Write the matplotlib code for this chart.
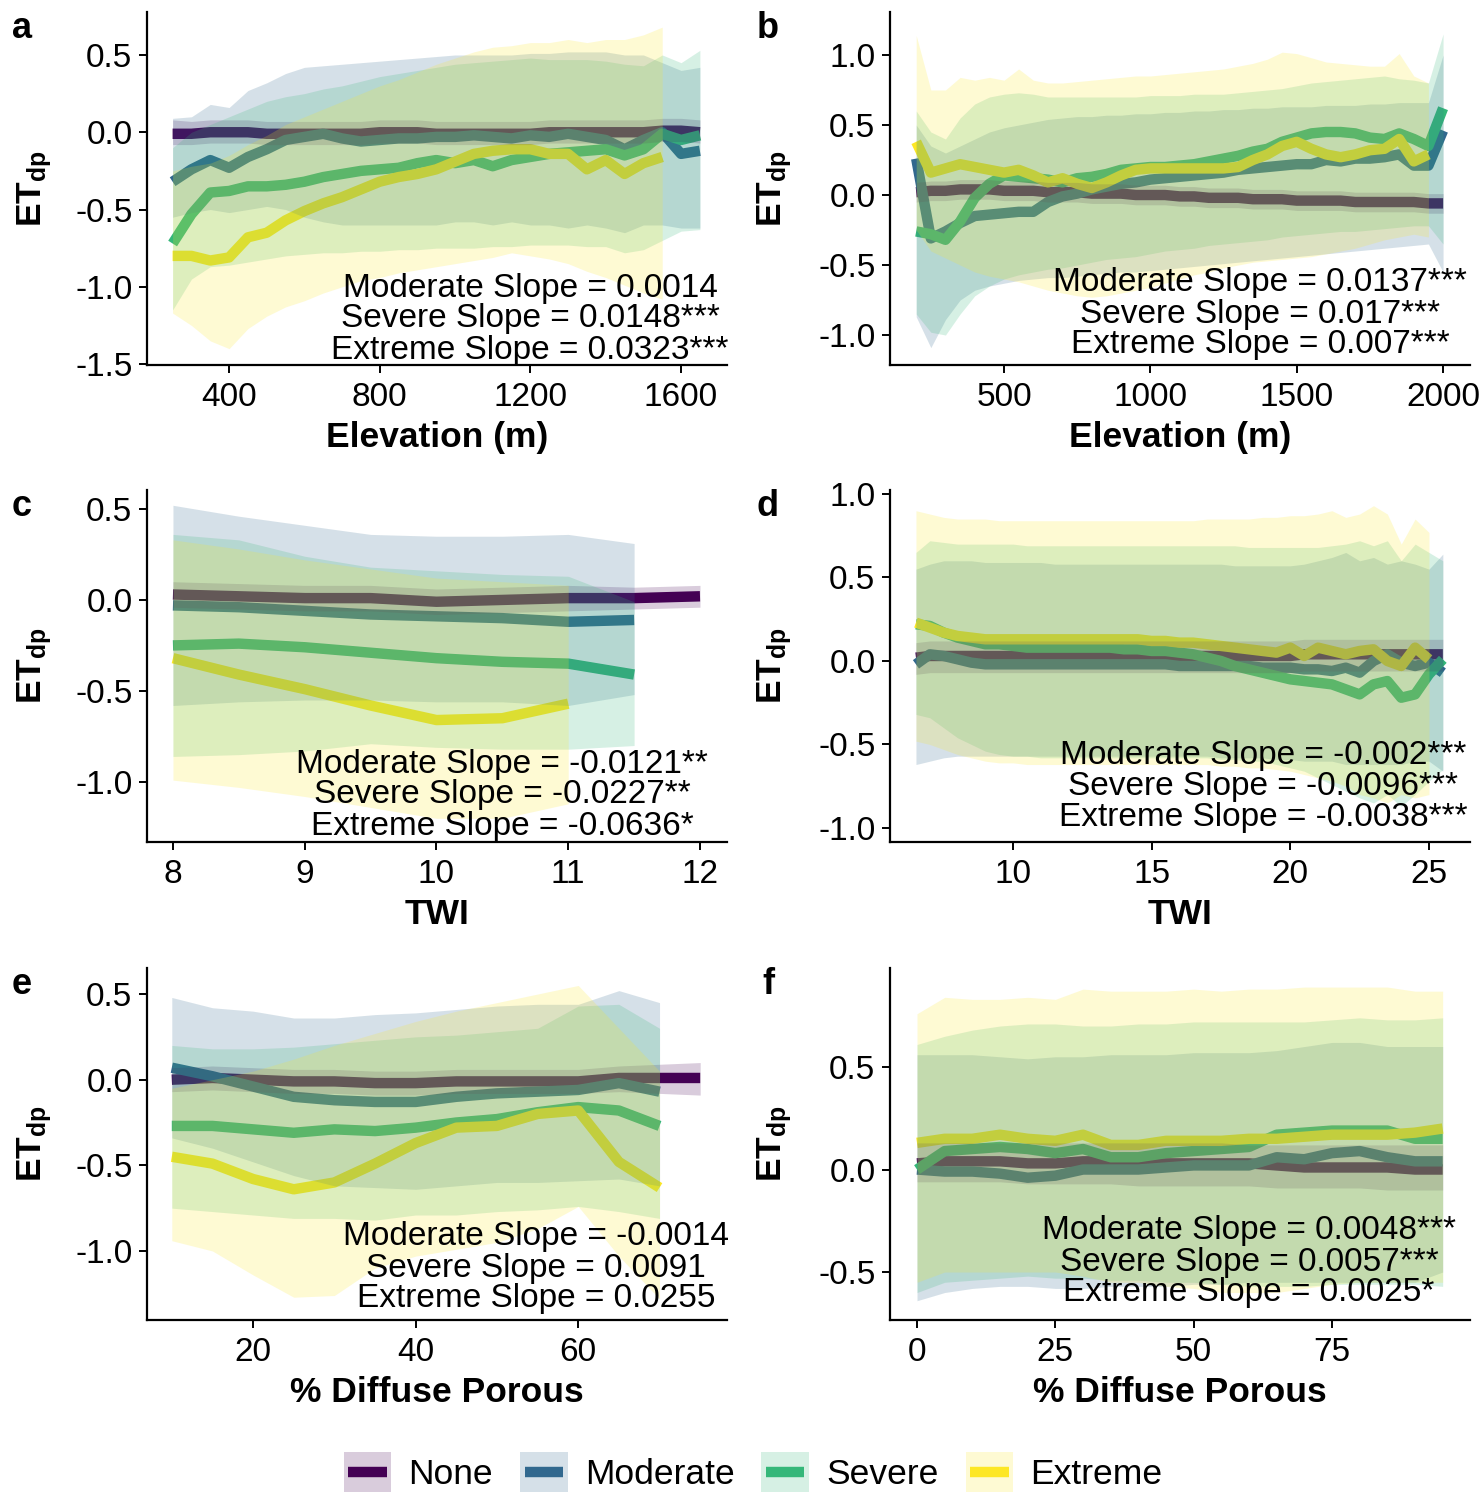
import matplotlib
matplotlib.use('Agg')
import matplotlib.pyplot as plt
from matplotlib.patches import Rectangle
from matplotlib.lines import Line2D
from matplotlib.legend_handler import HandlerBase
from matplotlib.ticker import FormatStrFormatter

matplotlib.rcParams['font.family'] = 'Liberation Sans'
matplotlib.rcParams['axes.unicode_minus'] = False
matplotlib.rcParams['mathtext.fontset'] = 'custom'
matplotlib.rcParams['mathtext.rm'] = 'Liberation Sans'
matplotlib.rcParams['mathtext.bf'] = 'Liberation Sans:bold'
matplotlib.rcParams['mathtext.it'] = 'Liberation Sans:italic'

W, H = 1484, 1493
fontsize1 = 24     # ticks, slope text
fontsize2 = 25.5   # axis labels, legend
fontsize3 = 26     # panel letters
linewidth1 = 7.5

groups = ['None', 'Moderate', 'Severe', 'Extreme']
colors = ['#440154', '#31688E', '#35B779', '#FDE725']

# ---------------- panel a : elevation (m) ----------------
a_x = [250, 300, 350, 400, 450, 500, 550, 600, 650, 700,
       750, 800, 850, 900, 950, 1000, 1050, 1100, 1150, 1200,
       1250, 1300, 1350, 1400, 1450, 1500, 1550, 1600, 1650]
a_none = [-0.01, -0.01, 0.0, 0.0, 0.0, -0.01, -0.01, -0.01, -0.01, -0.01,
          -0.01, 0.0, 0.0, 0.0, -0.01, -0.01, -0.01, -0.01, -0.01, -0.01,
          0.0, 0.0, 0.0, 0.0, 0.0, 0.0, 0.01, 0.01, 0.0]
a_none_lo = [-0.08, -0.08, -0.07, -0.07, -0.07, -0.08, -0.08, -0.08, -0.08, -0.08,
             -0.08, -0.07, -0.07, -0.07, -0.08, -0.08, -0.08, -0.08, -0.08, -0.08,
             -0.07, -0.07, -0.07, -0.07, -0.07, -0.07, -0.06, -0.06, -0.07]
a_none_hi = [0.08, 0.07, 0.08, 0.08, 0.08, 0.07, 0.07, 0.07, 0.07, 0.07,
             0.07, 0.08, 0.08, 0.08, 0.07, 0.07, 0.07, 0.07, 0.07, 0.07,
             0.08, 0.08, 0.08, 0.08, 0.08, 0.08, 0.09, 0.09, 0.08]
a_mod = [-0.32, -0.24, -0.18, -0.23, -0.16, -0.11, -0.05, -0.03, -0.01, -0.04,
         -0.06, -0.05, -0.04, -0.04, -0.03, -0.03, -0.02, -0.03, -0.04, -0.02,
         -0.03, -0.01, -0.03, -0.05, -0.11, -0.05, 0.0, -0.14, -0.12]
a_mod_lo = [-0.55, -0.52, -0.5, -0.52, -0.5, -0.48, -0.5, -0.55, -0.58, -0.6,
            -0.6, -0.6, -0.6, -0.6, -0.6, -0.58, -0.58, -0.6, -0.58, -0.6,
            -0.6, -0.62, -0.6, -0.62, -0.65, -0.6, -0.6, -0.62, -0.62]
a_mod_hi = [0.09, 0.10, 0.18, 0.16, 0.27, 0.32, 0.38, 0.42, 0.43, 0.44,
            0.45, 0.46, 0.47, 0.48, 0.49, 0.50, 0.50, 0.50, 0.50, 0.51,
            0.51, 0.52, 0.52, 0.52, 0.50, 0.50, 0.45, 0.40, 0.42]
a_sev = [-0.72, -0.53, -0.39, -0.38, -0.35, -0.35, -0.34, -0.32, -0.29, -0.27,
         -0.25, -0.24, -0.23, -0.2, -0.18, -0.2, -0.18, -0.22, -0.18, -0.16,
         -0.14, -0.13, -0.12, -0.11, -0.15, -0.11, -0.01, -0.05, -0.02]
a_sev_lo = [-1.15, -0.95, -0.87, -0.86, -0.84, -0.82, -0.8, -0.79, -0.78, -0.78,
            -0.77, -0.77, -0.76, -0.76, -0.75, -0.75, -0.75, -0.74, -0.74, -0.73,
            -0.73, -0.73, -0.74, -0.74, -0.78, -0.76, -0.7, -0.64, -0.63]
a_sev_hi = [-0.1, 0.0, 0.05, 0.1, 0.15, 0.2, 0.23, 0.25, 0.28, 0.3,
            0.33, 0.36, 0.38, 0.4, 0.42, 0.44, 0.45, 0.46, 0.47, 0.48,
            0.47, 0.47, 0.47, 0.46, 0.44, 0.43, 0.5, 0.45, 0.53]
a_ext = [-0.80, -0.80, -0.83, -0.81, -0.68, -0.65, -0.57, -0.51, -0.46, -0.42,
         -0.37, -0.32, -0.29, -0.27, -0.24, -0.19, -0.14, -0.12, -0.11, -0.11,
         -0.14, -0.14, -0.24, -0.18, -0.27, -0.2, -0.16]
a_ext_lo = [-1.17, -1.25, -1.35, -1.4, -1.27, -1.19, -1.13, -1.09, -1.04, -1.0,
            -0.96, -0.94, -0.91, -0.89, -0.87, -0.85, -0.83, -0.81, -0.78, -0.8,
            -0.82, -0.85, -0.9, -0.94, -0.99, -1.04, -1.08]
a_ext_hi = [-0.25, -0.22, -0.2, -0.15, -0.08, -0.02, 0.05, 0.1, 0.15, 0.2,
            0.25, 0.3, 0.34, 0.39, 0.44, 0.48, 0.52, 0.55, 0.56, 0.58,
            0.58, 0.6, 0.58, 0.6, 0.6, 0.63, 0.68]

# ---------------- panel b : elevation (m) ----------------
b_x = [200, 250, 300, 350, 400, 450, 500, 550, 600, 650,
       700, 750, 800, 850, 900, 950, 1000, 1050, 1100, 1150,
       1200, 1250, 1300, 1350, 1400, 1450, 1500, 1550, 1600, 1650,
       1700, 1750, 1800, 1850, 1900, 1950, 2000]
b_none = [0.02, 0.03, 0.03, 0.04, 0.04, 0.04, 0.03, 0.03, 0.03, 0.02,
          0.02, 0.02, 0.01, 0.01, 0.01, 0.0, 0.0, 0.0, -0.01, -0.01,
          -0.02, -0.02, -0.02, -0.03, -0.03, -0.03, -0.04, -0.04, -0.04, -0.04,
          -0.05, -0.05, -0.05, -0.05, -0.05, -0.06, -0.06]
b_none_lo = [-0.05, -0.04, -0.04, -0.03, -0.03, -0.03, -0.04, -0.04, -0.04, -0.05,
             -0.05, -0.05, -0.06, -0.06, -0.06, -0.07, -0.07, -0.07, -0.08, -0.08,
             -0.09, -0.09, -0.09, -0.1, -0.1, -0.1, -0.11, -0.11, -0.11, -0.11,
             -0.12, -0.12, -0.12, -0.12, -0.12, -0.13, -0.13]
b_none_hi = [0.09, 0.1, 0.1, 0.11, 0.11, 0.11, 0.1, 0.1, 0.1, 0.09,
             0.09, 0.09, 0.08, 0.08, 0.08, 0.07, 0.07, 0.07, 0.06, 0.06,
             0.05, 0.05, 0.05, 0.04, 0.04, 0.04, 0.03, 0.03, 0.03, 0.03,
             0.02, 0.02, 0.02, 0.02, 0.02, 0.01, 0.01]
b_mod = [0.26, -0.31, -0.26, -0.2, -0.15, -0.14, -0.13, -0.12, -0.12, -0.05,
         -0.01, 0.01, 0.04, 0.06, 0.08, 0.09, 0.11, 0.12, 0.13, 0.14,
         0.15, 0.16, 0.18, 0.19, 0.2, 0.21, 0.22, 0.22, 0.25, 0.24,
         0.26, 0.26, 0.27, 0.29, 0.21, 0.21, 0.46]
b_mod_lo = [-0.87, -1.09, -0.89, -0.75, -0.68, -0.65, -0.63, -0.61, -0.6, -0.59,
            -0.59, -0.58, -0.57, -0.56, -0.55, -0.55, -0.54, -0.53, -0.52, -0.51,
            -0.5, -0.49, -0.48, -0.47, -0.46, -0.45, -0.44, -0.43, -0.42, -0.41,
            -0.4, -0.39, -0.38, -0.37, -0.36, -0.35, -0.55]
b_mod_hi = [0.5, 0.35, 0.3, 0.35, 0.4, 0.45, 0.48, 0.5, 0.52, 0.54,
            0.55, 0.56, 0.56, 0.57, 0.57, 0.58, 0.58, 0.59, 0.59, 0.6,
            0.6, 0.61, 0.61, 0.62, 0.62, 0.63, 0.63, 0.63, 0.64, 0.64,
            0.64, 0.65, 0.65, 0.66, 0.66, 0.66, 1.0]
b_sev = [-0.26, -0.28, -0.32, -0.19, -0.02, 0.08, 0.14, 0.13, 0.12, 0.11,
         0.09, 0.12, 0.13, 0.15, 0.18, 0.19, 0.2, 0.2, 0.21, 0.22,
         0.24, 0.26, 0.28, 0.31, 0.33, 0.38, 0.41, 0.44, 0.45, 0.45,
         0.44, 0.41, 0.4, 0.44, 0.4, 0.35, 0.62]
b_sev_lo = [-0.85, -0.98, -1.0, -0.85, -0.72, -0.65, -0.6, -0.57, -0.55, -0.53,
            -0.52, -0.5, -0.48, -0.46, -0.45, -0.44, -0.42, -0.4, -0.39, -0.38,
            -0.36, -0.35, -0.34, -0.33, -0.32, -0.3, -0.29, -0.28, -0.27, -0.26,
            -0.26, -0.25, -0.24, -0.23, -0.22, -0.22, -0.35]
b_sev_hi = [0.6, 0.45, 0.4, 0.55, 0.65, 0.7, 0.72, 0.73, 0.72, 0.7,
            0.7, 0.7, 0.7, 0.7, 0.7, 0.7, 0.71, 0.71, 0.71, 0.72,
            0.72, 0.72, 0.73, 0.74, 0.75, 0.76, 0.78, 0.8, 0.81, 0.82,
            0.83, 0.84, 0.85, 0.83, 0.82, 0.8, 1.15]
b_ext = [0.38, 0.16, 0.19, 0.22, 0.2, 0.18, 0.16, 0.18, 0.14, 0.09,
         0.12, 0.08, 0.05, 0.09, 0.14, 0.18, 0.19, 0.19, 0.19, 0.19,
         0.19, 0.19, 0.2, 0.25, 0.29, 0.35, 0.38, 0.33, 0.29, 0.27,
         0.29, 0.32, 0.33, 0.4, 0.24, 0.29]
b_ext_lo = [-0.25, -0.4, -0.45, -0.5, -0.55, -0.58, -0.6, -0.62, -0.65, -0.68,
            -0.7, -0.72, -0.73, -0.72, -0.7, -0.68, -0.66, -0.63, -0.6, -0.57,
            -0.55, -0.52, -0.5, -0.48, -0.47, -0.46, -0.45, -0.44, -0.42, -0.4,
            -0.38, -0.35, -0.32, -0.3, -0.28, -0.3]
b_ext_hi = [1.14, 0.75, 0.75, 0.84, 0.82, 0.84, 0.82, 0.9, 0.82, 0.8,
            0.8, 0.81, 0.82, 0.83, 0.84, 0.85, 0.85, 0.86, 0.87, 0.88,
            0.89, 0.9, 0.92, 0.94, 0.97, 1.02, 1.01, 0.98, 0.95, 0.94,
            0.93, 0.92, 0.92, 1.01, 0.85, 0.8]

# ---------------- panel c : TWI ----------------
c_x = [8, 8.5, 9, 9.5, 10, 10.5, 11, 11.5, 12]
c_none = [0.03, 0.02, 0.01, 0.01, -0.01, 0.0, 0.01, 0.01, 0.02]
c_none_lo = [-0.04, -0.05, -0.06, -0.06, -0.08, -0.07, -0.06, -0.05, -0.04]
c_none_hi = [0.1, 0.09, 0.08, 0.08, 0.06, 0.07, 0.08, 0.07, 0.08]
c_mod = [-0.03, -0.04, -0.06, -0.08, -0.09, -0.1, -0.12, -0.11]
c_mod_lo = [-0.58, -0.56, -0.55, -0.55, -0.56, -0.56, -0.58, -0.52]
c_mod_hi = [0.52, 0.46, 0.41, 0.36, 0.35, 0.35, 0.36, 0.31]
c_sev = [-0.25, -0.24, -0.26, -0.29, -0.32, -0.34, -0.35, -0.41]
c_sev_lo = [-0.86, -0.85, -0.83, -0.79, -0.81, -0.82, -0.82, -0.8]
c_sev_hi = [0.36, 0.33, 0.24, 0.18, 0.16, 0.14, 0.13, -0.01]
c_ext = [-0.32, -0.41, -0.49, -0.58, -0.66, -0.65, -0.57]
c_ext_lo = [-0.99, -1.03, -1.08, -1.14, -1.2, -1.2, -1.12]
c_ext_hi = [0.33, 0.28, 0.22, 0.17, 0.12, 0.1, 0.08]

# ---------------- panel d : TWI ----------------
d_x = [6.5, 7, 7.5, 8, 8.5, 9, 9.5, 10, 10.5, 11,
       11.5, 12, 12.5, 13, 13.5, 14, 14.5, 15, 15.5, 16,
       16.5, 17, 17.5, 18, 18.5, 19, 19.5, 20, 20.5, 21,
       21.5, 22, 22.5, 23, 23.5, 24, 24.5, 25, 25.5]
d_none = [0.02, 0.03, 0.03, 0.03, 0.03, 0.03, 0.03, 0.03, 0.03, 0.03,
          0.03, 0.03, 0.03, 0.03, 0.03, 0.03, 0.03, 0.03, 0.03, 0.03,
          0.03, 0.03, 0.03, 0.03, 0.03, 0.03, 0.03, 0.03, 0.04, 0.04,
          0.04, 0.04, 0.04, 0.04, 0.04, 0.04, 0.04, 0.04, 0.04]
d_none_lo = [-0.08, -0.07, -0.07, -0.07, -0.07, -0.07, -0.07, -0.07, -0.07, -0.07,
             -0.07, -0.07, -0.07, -0.07, -0.07, -0.07, -0.07, -0.07, -0.07, -0.07,
             -0.07, -0.07, -0.07, -0.07, -0.07, -0.07, -0.07, -0.07, -0.06, -0.06,
             -0.06, -0.06, -0.06, -0.06, -0.06, -0.06, -0.06, -0.06, -0.06]
d_none_hi = [0.11, 0.12, 0.12, 0.12, 0.12, 0.12, 0.12, 0.12, 0.12, 0.12,
             0.12, 0.12, 0.12, 0.12, 0.12, 0.12, 0.12, 0.12, 0.12, 0.12,
             0.12, 0.12, 0.12, 0.12, 0.12, 0.12, 0.12, 0.12, 0.13, 0.13,
             0.13, 0.13, 0.13, 0.13, 0.13, 0.13, 0.13, 0.13, 0.13]
d_mod = [-0.02, 0.04, 0.03, 0.01, -0.01, -0.02, -0.02, -0.02, -0.02, -0.02,
         -0.02, -0.02, -0.02, -0.02, -0.02, -0.02, -0.02, -0.02, -0.02, -0.03,
         -0.03, -0.03, -0.03, -0.03, -0.03, -0.04, -0.04, -0.04, -0.05, -0.05,
         -0.06, -0.04, -0.07, 0.0, 0.04, -0.01, -0.03, -0.01, -0.07]
d_mod_lo = [-0.62, -0.6, -0.58, -0.57, -0.57, -0.57, -0.57, -0.57, -0.57, -0.57,
            -0.57, -0.57, -0.57, -0.57, -0.57, -0.57, -0.57, -0.57, -0.57, -0.57,
            -0.57, -0.57, -0.58, -0.58, -0.58, -0.58, -0.59, -0.59, -0.6, -0.6,
            -0.6, -0.62, -0.62, -0.62, -0.62, -0.62, -0.6, -0.6, -0.66]
d_mod_hi = [0.55, 0.58, 0.6, 0.6, 0.6, 0.59, 0.59, 0.59, 0.59, 0.59,
            0.58, 0.58, 0.58, 0.58, 0.58, 0.58, 0.58, 0.58, 0.58, 0.58,
            0.58, 0.58, 0.58, 0.57, 0.57, 0.57, 0.57, 0.57, 0.58, 0.6,
            0.62, 0.65, 0.6, 0.62, 0.58, 0.6, 0.58, 0.55, 0.64]
d_sev = [0.22, 0.21, 0.17, 0.14, 0.12, 0.1, 0.1, 0.09, 0.08, 0.08,
         0.08, 0.08, 0.08, 0.08, 0.08, 0.07, 0.07, 0.06, 0.06, 0.05,
         0.04, 0.02, 0.0, -0.03, -0.05, -0.07, -0.09, -0.11, -0.12, -0.13,
         -0.14, -0.17, -0.2, -0.14, -0.12, -0.22, -0.2, -0.08, 0.01]
d_sev_lo = [-0.32, -0.34, -0.4, -0.46, -0.5, -0.54, -0.56, -0.57, -0.57, -0.58,
            -0.58, -0.58, -0.58, -0.58, -0.58, -0.58, -0.58, -0.58, -0.58, -0.58,
            -0.58, -0.58, -0.59, -0.59, -0.6, -0.6, -0.62, -0.64, -0.66, -0.7,
            -0.74, -0.78, -0.82, -0.85, -0.8, -0.87, -0.8, -0.72, -0.65]
d_sev_hi = [0.65, 0.72, 0.71, 0.7, 0.7, 0.7, 0.7, 0.7, 0.69, 0.69,
            0.69, 0.69, 0.69, 0.69, 0.69, 0.69, 0.69, 0.69, 0.69, 0.69,
            0.69, 0.69, 0.69, 0.69, 0.68, 0.68, 0.68, 0.68, 0.68, 0.68,
            0.69, 0.7, 0.72, 0.69, 0.72, 0.6, 0.7, 0.65, 0.6]
d_ext = [0.23, 0.2, 0.17, 0.15, 0.14, 0.13, 0.13, 0.13, 0.13, 0.13,
         0.13, 0.13, 0.13, 0.13, 0.13, 0.13, 0.13, 0.12, 0.12, 0.11,
         0.11, 0.1, 0.09, 0.08, 0.07, 0.06, 0.05, 0.08, 0.03, 0.08,
         0.06, 0.04, 0.06, 0.07, 0.0, -0.03, 0.08, 0.01]
d_ext_lo = [-0.48, -0.5, -0.53, -0.56, -0.58, -0.6, -0.61, -0.61, -0.62, -0.62,
            -0.62, -0.62, -0.62, -0.62, -0.62, -0.62, -0.62, -0.62, -0.62, -0.62,
            -0.62, -0.62, -0.63, -0.63, -0.64, -0.64, -0.65, -0.66, -0.68, -0.7,
            -0.72, -0.75, -0.8, -0.82, -0.85, -0.8, -0.82, -0.8]
d_ext_hi = [0.9, 0.88, 0.86, 0.85, 0.85, 0.85, 0.84, 0.84, 0.84, 0.84,
            0.84, 0.84, 0.84, 0.84, 0.84, 0.84, 0.84, 0.84, 0.84, 0.84,
            0.84, 0.85, 0.85, 0.85, 0.85, 0.86, 0.86, 0.87, 0.87, 0.88,
            0.9, 0.86, 0.88, 0.93, 0.88, 0.7, 0.85, 0.77]

# ---------------- panel e : % diffuse porous ----------------
e_x = [10, 15, 20, 25, 30, 35, 40, 45, 50, 55, 60, 65, 70, 75]
e_none = [0.0, 0.01, 0.0, -0.01, -0.01, -0.02, -0.02, -0.01, -0.01, -0.01, -0.01, 0.01, 0.01, 0.01]
e_none_lo = [-0.07, -0.06, -0.07, -0.08, -0.08, -0.09, -0.09, -0.08, -0.08, -0.08, -0.08, -0.07, -0.08, -0.09]
e_none_hi = [0.07, 0.08, 0.07, 0.06, 0.06, 0.05, 0.05, 0.06, 0.06, 0.06, 0.06, 0.08, 0.09, 0.1]
e_mod = [0.07, 0.02, -0.04, -0.1, -0.12, -0.13, -0.13, -0.1, -0.08, -0.07, -0.06, -0.02, -0.07]
e_mod_lo = [-0.34, -0.4, -0.48, -0.56, -0.62, -0.63, -0.64, -0.62, -0.6, -0.6, -0.59, -0.58, -0.62]
e_mod_hi = [0.48, 0.42, 0.4, 0.36, 0.36, 0.38, 0.39, 0.41, 0.43, 0.44, 0.44, 0.52, 0.45]
e_sev = [-0.27, -0.27, -0.29, -0.31, -0.29, -0.3, -0.28, -0.25, -0.23, -0.19, -0.16, -0.18, -0.27]
e_sev_lo = [-0.75, -0.77, -0.79, -0.81, -0.81, -0.82, -0.79, -0.79, -0.77, -0.76, -0.74, -0.77, -0.81]
e_sev_hi = [0.2, 0.18, 0.18, 0.19, 0.21, 0.23, 0.25, 0.26, 0.28, 0.3, 0.43, 0.44, 0.3]
e_ext = [-0.45, -0.49, -0.58, -0.64, -0.6, -0.49, -0.37, -0.28, -0.27, -0.2, -0.18, -0.48, -0.63]
e_ext_lo = [-0.94, -1.0, -1.14, -1.27, -1.26, -1.1, -1.03, -0.99, -0.95, -0.87, -0.74, -1.03, -1.28]
e_ext_hi = [-0.05, 0.0, 0.05, 0.12, 0.2, 0.27, 0.34, 0.4, 0.45, 0.5, 0.55, 0.3, 0.05]

# ---------------- panel f : % diffuse porous ----------------
f_x = [0, 5, 10, 15, 20, 25, 30, 35, 40, 45, 50, 55, 60, 65, 70, 75, 80, 85, 90, 95]
f_none = [0.03, 0.04, 0.04, 0.04, 0.03, 0.03, 0.04, 0.04, 0.03, 0.03,
          0.03, 0.03, 0.03, 0.02, 0.01, 0.01, 0.01, 0.01, 0.0, 0.0]
f_none_lo = [-0.06, -0.06, -0.06, -0.06, -0.07, -0.07, -0.07, -0.07, -0.08, -0.08,
             -0.08, -0.08, -0.08, -0.09, -0.09, -0.09, -0.09, -0.1, -0.1, -0.1]
f_none_hi = [0.13, 0.13, 0.13, 0.13, 0.13, 0.13, 0.13, 0.13, 0.13, 0.13,
             0.13, 0.13, 0.12, 0.12, 0.12, 0.12, 0.12, 0.12, 0.12, 0.12]
f_mod = [0.0, -0.01, -0.01, -0.02, -0.04, -0.03, 0.0, 0.0, 0.0, 0.01,
         0.02, 0.02, 0.02, 0.06, 0.05, 0.08, 0.09, 0.06, 0.04, 0.04]
f_mod_lo = [-0.64, -0.6, -0.58, -0.57, -0.57, -0.58, -0.58, -0.57, -0.57, -0.57,
            -0.56, -0.56, -0.55, -0.55, -0.55, -0.55, -0.55, -0.55, -0.55, -0.5]
f_mod_hi = [0.56, 0.56, 0.56, 0.55, 0.54, 0.55, 0.55, 0.56, 0.56, 0.56,
            0.57, 0.57, 0.57, 0.58, 0.6, 0.62, 0.62, 0.6, 0.6, 0.6]
f_sev = [0.0, 0.09, 0.1, 0.11, 0.1, 0.08, 0.1, 0.06, 0.06, 0.08,
         0.09, 0.1, 0.11, 0.17, 0.18, 0.19, 0.19, 0.19, 0.15, 0.15]
f_sev_lo = [-0.6, -0.55, -0.54, -0.53, -0.52, -0.53, -0.53, -0.54, -0.54, -0.55,
            -0.55, -0.56, -0.57, -0.57, -0.57, -0.56, -0.56, -0.56, -0.56, -0.57]
f_sev_hi = [0.61, 0.65, 0.68, 0.7, 0.71, 0.71, 0.7, 0.7, 0.71, 0.71,
            0.72, 0.72, 0.72, 0.72, 0.72, 0.73, 0.74, 0.73, 0.73, 0.74]
f_ext = [0.13, 0.15, 0.15, 0.17, 0.15, 0.14, 0.17, 0.12, 0.12, 0.14,
         0.14, 0.14, 0.15, 0.15, 0.16, 0.17, 0.17, 0.17, 0.18, 0.2]
f_ext_lo = [-0.55, -0.5, -0.5, -0.5, -0.5, -0.5, -0.52, -0.55, -0.55, -0.57,
            -0.58, -0.6, -0.6, -0.6, -0.58, -0.56, -0.55, -0.55, -0.55, -0.55]
f_ext_hi = [0.76, 0.84, 0.83, 0.83, 0.84, 0.83, 0.88, 0.87, 0.87, 0.87,
            0.88, 0.87, 0.88, 0.88, 0.89, 0.89, 0.89, 0.89, 0.87, 0.87]

slope_a = 'Moderate Slope = 0.0014\nSevere Slope = 0.0148***\nExtreme Slope = 0.0323***'
slope_b = 'Moderate Slope = 0.0137***\nSevere Slope = 0.017***\nExtreme Slope = 0.007***'
slope_c = 'Moderate Slope = -0.0121**\nSevere Slope = -0.0227**\nExtreme Slope = -0.0636*'
slope_d = 'Moderate Slope = -0.002***\nSevere Slope = -0.0096***\nExtreme Slope = -0.0038***'
slope_e = 'Moderate Slope = -0.0014\nSevere Slope = 0.0091\nExtreme Slope = 0.0255'
slope_f = 'Moderate Slope = 0.0048***\nSevere Slope = 0.0057***\nExtreme Slope = 0.0025*'

# panel table: letter, x data, series, xlabel, box (px: left, top, right, bottom),
# xlim, ylim, xticks, yticks, slope text, slope text centre (px)
panels = [
    ('a', a_x, [(a_none, a_none_lo, a_none_hi), (a_mod, a_mod_lo, a_mod_hi),
                (a_sev, a_sev_lo, a_sev_hi), (a_ext, a_ext_lo, a_ext_hi)],
     'Elevation (m)', (147, 12, 727, 365), (182, 1722), (-1.506, 0.778),
     [400, 800, 1200, 1600], [-1.5, -1.0, -0.5, 0.0, 0.5], slope_a, (530, 319)),
    ('b', b_x, [(b_none, b_none_lo, b_none_hi), (b_mod, b_mod_lo, b_mod_hi),
                (b_sev, b_sev_lo, b_sev_hi), (b_ext, b_ext_lo, b_ext_hi)],
     'Elevation (m)', (890, 12, 1470, 365), (110.5, 2092), (-1.214, 1.307),
     [500, 1000, 1500, 2000], [-1.0, -0.5, 0.0, 0.5, 1.0], slope_b, (1260, 314)),
    ('c', c_x, [(c_none, c_none_lo, c_none_hi), (c_mod, c_mod_lo, c_mod_hi),
                (c_sev, c_sev_lo, c_sev_hi), (c_ext, c_ext_lo, c_ext_hi)],
     'TWI', (147, 490, 727, 842), (7.803, 12.205), (-1.33, 0.604),
     [8, 9, 10, 11, 12], [-1.0, -0.5, 0.0, 0.5], slope_c, (502, 795)),
    ('d', d_x, [(d_none, d_none_lo, d_none_hi), (d_mod, d_mod_lo, d_mod_hi),
                (d_sev, d_sev_lo, d_sev_hi), (d_ext, d_ext_lo, d_ext_hi)],
     'TWI', (890, 490, 1470, 842), (5.564, 26.48), (-1.084, 1.024),
     [10, 15, 20, 25], [-1.0, -0.5, 0.0, 0.5, 1.0], slope_d, (1263, 786)),
    ('e', e_x, [(e_none, e_none_lo, e_none_hi), (e_mod, e_mod_lo, e_mod_hi),
                (e_sev, e_sev_lo, e_sev_hi), (e_ext, e_ext_lo, e_ext_hi)],
     '% Diffuse Porous', (147, 968, 727, 1320), (6.95, 78.3), (-1.403, 0.652),
     [20, 40, 60], [-1.0, -0.5, 0.0, 0.5], slope_e, (536, 1268)),
    ('f', f_x, [(f_none, f_none_lo, f_none_hi), (f_mod, f_mod_lo, f_mod_hi),
                (f_sev, f_sev_lo, f_sev_hi), (f_ext, f_ext_lo, f_ext_hi)],
     '% Diffuse Porous', (890, 968, 1470, 1320), (-4.88, 99.94), (-0.734, 0.983),
     [0, 25, 50, 75], [-0.5, 0.0, 0.5], slope_f, (1249, 1262)),
]

fig = plt.figure(figsize=(W / 100, H / 100), dpi=100)


def fx(x):
    return x / W


def fy(y):
    return 1 - y / H


for (letter, xs, series, xlab, box, xlim, ylim, xticks, yticks,
     slope, tpos) in panels:
    l, t, r, b = box
    ax = fig.add_axes([fx(l), fy(b), (r - l) / W, (b - t) / H])
    # lines first, ribbons on top (as in the original)
    for (y, lo, hi), c in zip(series, colors):
        ax.plot(xs[:len(y)], y, color=c, lw=linewidth1, zorder=2,
                solid_capstyle='butt', solid_joinstyle='round')
    for (y, lo, hi), c in zip(series, colors):
        ax.fill_between(xs[:len(lo)], lo, hi, color=c, alpha=0.2, lw=0, zorder=3)
    ax.set_xlim(*xlim)
    ax.set_ylim(*ylim)
    ax.set_xticks(xticks)
    ax.set_yticks(yticks)
    ax.yaxis.set_major_formatter(FormatStrFormatter('%.1f'))
    ax.xaxis.set_major_formatter(FormatStrFormatter('%d'))
    for s in ['top', 'right']:
        ax.spines[s].set_visible(False)
    for s in ['left', 'bottom']:
        ax.spines[s].set_linewidth(1.6)
        ax.spines[s].set_color('black')
    ax.tick_params(axis='both', direction='out', length=6, width=1.4,
                   labelsize=fontsize1, color='black', labelcolor='black')
    ax.tick_params(axis='y', pad=4.5)
    ax.tick_params(axis='x', pad=6)
    ax.set_facecolor('none')

    col_left = l < 500
    fig.text(fx(22 if col_left else 768), fy(t + 16), letter, fontsize=fontsize3,
             fontweight='bold', ha='center', va='center')
    fig.text(fx(35 if col_left else 775), fy((t + b) / 2), r'$\mathbf{ET_{dp}}$',
             fontsize=fontsize2, rotation=90, ha='center', va='center')
    fig.text(fx((l + r) / 2), fy(b + 72), xlab, fontsize=fontsize2,
             fontweight='bold', ha='center', va='center')
    fig.text(fx(tpos[0]), fy(tpos[1]), slope, fontsize=fontsize1,
             ha='center', va='center', multialignment='center', linespacing=1.0)


class KeyHandler(HandlerBase):
    # light ribbon square with a short thick line across its middle
    def create_artists(self, legend, orig_handle, xdescent, ydescent,
                       width, height, fontsize, trans):
        c = orig_handle.get_color()
        bg = Rectangle((-xdescent, -ydescent), width, height, facecolor=c,
                       alpha=0.2, lw=0, transform=trans)
        ym = -ydescent + height / 2
        ln = Line2D([-xdescent + 0.1 * width, -xdescent + 0.9 * width], [ym, ym],
                    color=c, lw=linewidth1, solid_capstyle='butt', transform=trans)
        return [bg, ln]


handles = [Line2D([], [], color=c) for c in colors]
fig.legend(handles, groups, loc='center', bbox_to_anchor=(fx(753), fy(1472)),
           ncol=4, frameon=False, fontsize=fontsize2, handlelength=1.35,
           handleheight=1.4, handletextpad=0.48, columnspacing=0.76, borderpad=0,
           handler_map={Line2D: KeyHandler()})

fig.savefig('out.png', dpi=100)
